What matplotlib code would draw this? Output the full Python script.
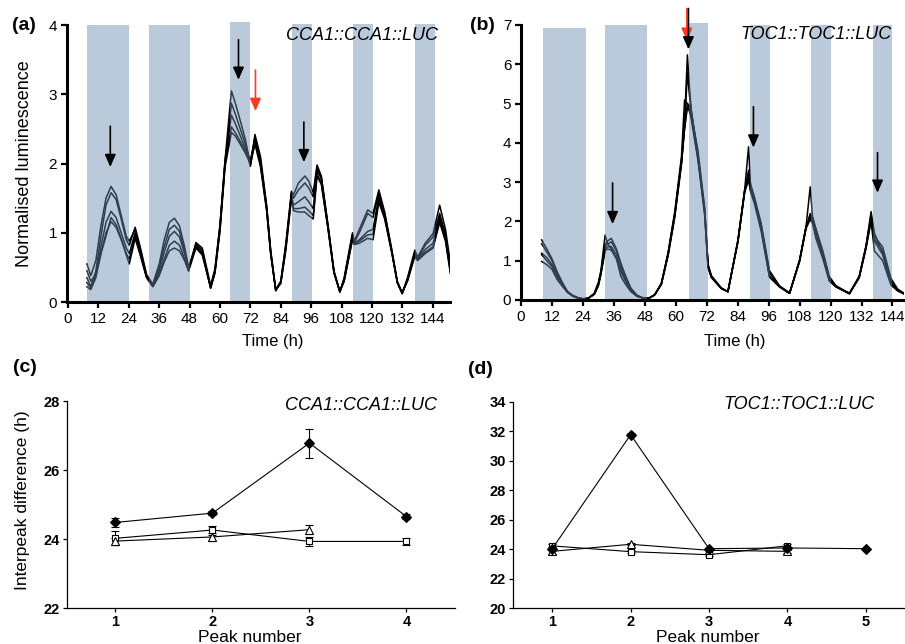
"""
Luminescence traces (CCA1 / TOC1) and interpeak differences
"""
import matplotlib
matplotlib.use("Agg")
import matplotlib.pyplot as plt

plt.rcParams['font.family'] = ['Liberation Sans', 'DejaVu Sans']

# ---- panel (a): CCA1::CCA1::LUC traces ----
time_a = [7.5, 9, 11, 13, 15, 17, 19, 21, 23, 24.2,
          26.5, 28.5, 31, 33.5, 36, 38, 40, 42, 44, 46,
          47.6, 50.5, 53, 56.3, 58, 60, 62, 64.5, 66, 68,
          70, 72, 73.8, 76, 78.4, 80, 82, 84, 86, 88.2,
          89, 91, 93.5, 95, 96.8, 98.3, 100, 102.7, 105, 107.3,
          109, 111, 112.3, 113, 115, 118.3, 120.4, 122.7, 125, 127.7,
          130, 131.9, 134, 136.9, 138, 141, 144.1, 146.7, 149, 151]
cca1_1 = [0.55, 0.38, 0.60, 1.10, 1.50, 1.67, 1.55, 1.25, 0.95, 0.88,
          1.05, 0.75, 0.38, 0.26, 0.55, 0.90, 1.15, 1.21, 1.10, 0.80,
          0.50, 0.80, 0.70, 0.22, 0.45, 1.10, 2.05, 3.05, 2.88, 2.62,
          2.35, 1.98, 2.42, 2.10, 1.40, 0.75, 0.18, 0.30, 0.85, 1.60,
          1.55, 1.72, 1.82, 1.75, 1.58, 1.98, 1.82, 1.10, 0.45, 0.15,
          0.35, 0.75, 1.00, 0.88, 1.05, 1.33, 1.28, 1.62, 1.30, 0.78,
          0.30, 0.13, 0.35, 0.75, 0.65, 0.85, 0.99, 1.40, 1.05, 0.55]
cca1_2 = [0.35, 0.22, 0.45, 0.95, 1.40, 1.58, 1.48, 1.20, 0.90, 0.82,
          1.08, 0.80, 0.40, 0.25, 0.50, 0.80, 1.05, 1.11, 1.02, 0.75,
          0.48, 0.84, 0.75, 0.20, 0.42, 1.05, 2.00, 2.87, 2.72, 2.50,
          2.28, 2.02, 2.38, 2.05, 1.38, 0.74, 0.17, 0.28, 0.80, 1.58,
          1.50, 1.62, 1.72, 1.65, 1.52, 1.95, 1.80, 1.08, 0.44, 0.15,
          0.33, 0.72, 0.98, 0.86, 1.00, 1.28, 1.22, 1.58, 1.28, 0.76,
          0.29, 0.12, 0.33, 0.72, 0.63, 0.82, 0.94, 1.28, 0.98, 0.50]
cca1_3 = [0.28, 0.20, 0.40, 0.80, 1.15, 1.31, 1.22, 1.00, 0.78, 0.70,
          1.00, 0.72, 0.38, 0.24, 0.45, 0.72, 0.95, 1.02, 0.94, 0.70,
          0.47, 0.86, 0.78, 0.24, 0.48, 1.12, 2.05, 2.70, 2.58, 2.40,
          2.22, 1.96, 2.35, 2.00, 1.36, 0.72, 0.16, 0.30, 0.82, 1.55,
          1.40, 1.45, 1.52, 1.45, 1.35, 1.90, 1.78, 1.06, 0.43, 0.14,
          0.32, 0.70, 0.95, 0.85, 0.90, 1.02, 1.05, 1.52, 1.25, 0.75,
          0.28, 0.12, 0.32, 0.70, 0.62, 0.76, 0.85, 1.23, 0.95, 0.48]
cca1_4 = [0.22, 0.18, 0.35, 0.70, 1.00, 1.16, 1.08, 0.90, 0.70, 0.62,
          0.95, 0.70, 0.36, 0.23, 0.40, 0.62, 0.82, 0.88, 0.82, 0.63,
          0.45, 0.82, 0.72, 0.20, 0.44, 1.08, 2.00, 2.53, 2.45, 2.32,
          2.18, 2.05, 2.32, 1.98, 1.34, 0.70, 0.18, 0.28, 0.78, 1.52,
          1.35, 1.35, 1.37, 1.32, 1.25, 1.85, 1.72, 1.05, 0.42, 0.15,
          0.30, 0.68, 0.92, 0.84, 0.88, 0.97, 0.98, 1.48, 1.22, 0.74,
          0.28, 0.13, 0.31, 0.68, 0.60, 0.72, 0.80, 1.18, 0.90, 0.42]
cca1_5 = [0.45, 0.30, 0.40, 0.70, 0.95, 1.22, 1.12, 0.92, 0.68, 0.55,
          0.92, 0.68, 0.35, 0.22, 0.38, 0.58, 0.74, 0.78, 0.74, 0.60,
          0.45, 0.78, 0.68, 0.21, 0.42, 1.02, 1.95, 2.45, 2.40, 2.28,
          2.15, 2.00, 2.28, 1.95, 1.32, 0.70, 0.17, 0.27, 0.75, 1.50,
          1.32, 1.30, 1.30, 1.25, 1.20, 1.82, 1.70, 1.04, 0.42, 0.16,
          0.30, 0.66, 0.90, 0.83, 0.85, 0.92, 0.90, 1.44, 1.20, 0.73,
          0.28, 0.14, 0.30, 0.66, 0.60, 0.70, 0.78, 1.15, 0.88, 0.40]

# ---- panel (b): TOC1::TOC1::LUC traces ----
time_b = [8, 10, 12, 14, 16, 18, 20, 22, 24, 26,
          28.4, 30, 31, 32.6, 33.5, 35, 37, 38.7, 40.5, 42.6,
          45, 47.7, 50, 51.8, 54.4, 57, 59.6, 62.2, 63.4, 64.5,
          65.3, 66, 68.6, 71.2, 72.5, 73.8, 77.6, 80.2, 84.1, 86.7,
          88.2, 89, 90.5, 93.1, 96.3, 100.2, 104.1, 108, 110.5, 112.1,
          113, 114.4, 117, 119.5, 122.1, 127.3, 131.1, 133.7, 135.7, 137,
          140.2, 143.4, 146, 148.5]
toc1_1 = [1.53, 1.30, 1.05, 0.72, 0.45, 0.22, 0.12, 0.06, 0.03, 0.04,
          0.17, 0.45, 0.76, 1.65, 1.45, 1.30, 1.05, 0.80, 0.50, 0.24,
          0.10, 0.04, 0.06, 0.13, 0.42, 1.19, 2.20, 3.56, 4.50, 6.24,
          5.40, 4.84, 3.65, 2.20, 0.85, 0.59, 0.30, 0.21, 1.53, 2.80,
          3.90, 2.88, 2.55, 1.87, 0.60, 0.34, 0.17, 1.02, 1.87, 2.88,
          2.12, 1.78, 1.19, 0.55, 0.34, 0.17, 0.60, 1.36, 2.25, 1.70,
          1.20, 0.45, 0.25, 0.17]
toc1_2 = [1.43, 1.22, 1.00, 0.68, 0.42, 0.21, 0.11, 0.06, 0.03, 0.04,
          0.16, 0.42, 0.72, 1.40, 1.50, 1.57, 1.30, 0.94, 0.62, 0.30,
          0.12, 0.04, 0.06, 0.13, 0.40, 1.15, 2.15, 3.50, 4.40, 5.80,
          5.20, 4.80, 3.70, 2.30, 0.90, 0.62, 0.31, 0.21, 1.50, 2.78,
          3.30, 2.95, 2.62, 1.95, 0.75, 0.36, 0.18, 1.00, 1.85, 2.20,
          2.10, 1.80, 1.25, 0.60, 0.36, 0.17, 0.58, 1.34, 2.15, 1.62,
          1.35, 0.55, 0.28, 0.17]
toc1_3 = [1.19, 1.08, 0.90, 0.62, 0.40, 0.20, 0.11, 0.05, 0.03, 0.04,
          0.15, 0.40, 0.70, 1.35, 1.42, 1.48, 1.25, 0.88, 0.58, 0.28,
          0.11, 0.04, 0.06, 0.13, 0.42, 1.20, 2.25, 3.65, 5.09, 5.00,
          4.85, 4.70, 3.60, 2.25, 0.85, 0.58, 0.30, 0.21, 1.52, 2.80,
          3.20, 2.85, 2.55, 1.90, 0.70, 0.35, 0.17, 1.02, 1.87, 2.15,
          2.05, 1.70, 1.15, 0.55, 0.35, 0.16, 0.60, 1.36, 2.10, 1.55,
          1.25, 0.48, 0.26, 0.16]
toc1_4 = [1.15, 1.00, 0.85, 0.58, 0.38, 0.20, 0.10, 0.05, 0.03, 0.04,
          0.15, 0.38, 0.68, 1.30, 1.35, 1.36, 1.15, 0.72, 0.48, 0.24,
          0.10, 0.04, 0.06, 0.13, 0.40, 1.15, 2.15, 3.50, 4.40, 5.00,
          4.95, 4.75, 3.80, 2.35, 0.90, 0.60, 0.30, 0.21, 1.50, 2.75,
          3.10, 2.80, 2.50, 1.80, 0.62, 0.34, 0.17, 1.00, 1.85, 2.10,
          2.00, 1.60, 1.10, 0.50, 0.34, 0.16, 0.58, 1.33, 2.05, 1.50,
          1.15, 0.42, 0.24, 0.16]
toc1_5 = [0.98, 0.90, 0.78, 0.52, 0.35, 0.19, 0.10, 0.05, 0.03, 0.04,
          0.14, 0.36, 0.66, 1.25, 1.30, 1.27, 1.05, 0.60, 0.40, 0.21,
          0.09, 0.04, 0.06, 0.13, 0.40, 1.12, 2.10, 3.45, 4.35, 4.90,
          4.80, 4.60, 3.55, 2.15, 0.82, 0.57, 0.29, 0.21, 1.48, 2.75,
          3.05, 2.75, 2.45, 1.75, 0.58, 0.33, 0.17, 0.98, 1.82, 2.05,
          1.95, 1.55, 1.05, 0.48, 0.33, 0.16, 0.56, 1.30, 2.00, 1.25,
          1.00, 0.38, 0.23, 0.15]

# dark periods (start, end) in h
dark_a = [(7.5, 24), (32, 48), (64, 72), (88.5, 96.5), (112.5, 120.5), (137, 145)]
dark_a_top = [4.0, 4.0, 4.05, 4.02, 4.02, 4.02]
dark_b = [(8.5, 25), (32.5, 49), (65, 72.3), (88.7, 96.4), (112.3, 120), (136.3, 144)]
dark_b_top = [6.93, 7.0, 7.05, 7.0, 7.0, 7.0]

# arrows: (time, start value, tip value)
arrows_a = [(16.7, 2.54, 1.95), (67.3, 3.79, 3.21), (93.1, 2.60, 2.02)]
red_arrow_a = (74.0, 3.35, 2.76)
arrows_b = [(35.5, 2.98, 1.93), (64.9, 7.42, 6.38), (90.1, 4.92, 3.88), (138.2, 3.75, 2.73)]
red_arrow_b = (64.3, 7.42, 6.60)

# ---- panels (c) and (d): interpeak differences ----
peaks_c = [1, 2, 3, 4]
c_diamond = [24.48, 24.75, 26.78, 24.65]
c_diamond_err = [0.13, 0.05, 0.42, 0.08]
c_square = [24.02, 24.26, 23.93, 23.93]
c_square_err = [0.20, 0.13, 0.12, 0.10]
c_triangle = [23.94, 24.06, 24.27]
c_triangle_err = [0.10, 0.12, 0.13]

peaks_d = [1, 2, 3, 4, 5]
d_diamond = [24.03, 31.78, 24.03, 24.08, 24.03]
d_diamond_err = [0.10, 0.10, 0.08, 0.08, 0.05]
d_square = [24.22, 23.83, 23.62, 24.23]
d_square_err = [0.12, 0.08, 0.08, 0.10]
d_triangle = [23.85, 24.33, 23.92, 23.85]
d_triangle_err = [0.15, 0.08, 0.08, 0.08]

band_color = (0.416, 0.547, 0.687)
red = '#ff3b1f'

fig = plt.figure(figsize=(9.05, 6.44), dpi=100)


def trace_panel(ax, t, traces, dark, tops, arrows, red_arrow, ymax, xmax, xmin, label):
    for tr in traces:
        ax.plot(t, tr, color='black', lw=1.1, zorder=2)
    # bands sit over the traces, which tints them blue-grey as in the original
    for (s, e), top in zip(dark, tops):
        ax.fill_between([s, e], 0, top, color=band_color, alpha=0.45, lw=0,
                        zorder=3, clip_on=False)
    style = '-|>,head_width=0.33,head_length=0.75'
    for x, y0, y1 in arrows:
        ax.annotate('', xy=(x, y1), xytext=(x, y0), annotation_clip=False, zorder=5,
                    arrowprops=dict(arrowstyle=style, color='black', lw=1.2,
                                    shrinkA=0, shrinkB=0))
    x, y0, y1 = red_arrow
    ax.annotate('', xy=(x, y1), xytext=(x, y0), annotation_clip=False, zorder=4,
                arrowprops=dict(arrowstyle=style, color=red, lw=1.2,
                                shrinkA=0, shrinkB=0))
    ax.set_xlim(xmin, xmax)
    ax.set_ylim(0, ymax)
    ax.set_xticks(range(0, 145, 12))
    ax.set_yticks(range(0, ymax + 1))
    for s in ['top', 'right']:
        ax.spines[s].set_visible(False)
    for s in ['left', 'bottom']:
        ax.spines[s].set_linewidth(2.2)
        ax.spines[s].set_zorder(6)
    ax.tick_params(direction='out', length=4, width=1.6, labelsize=11, pad=3)
    ax.text(0.77, 0.964, label, transform=ax.transAxes, ha='center', va='center',
            fontsize=13, style='italic')


ax_a = fig.add_axes([0.074, 0.531, 0.423, 0.430])
trace_panel(ax_a, time_a, [cca1_1, cca1_2, cca1_3, cca1_4, cca1_5], dark_a, dark_a_top,
            arrows_a, red_arrow_a, 4, 150.7, -0.4, 'CCA1::CCA1::LUC')
ax_a.set_xlabel('Time (h)', fontsize=12)
ax_a.xaxis.set_label_coords(0.538, -0.115)
ax_a.set_ylabel('Normalised luminescence', fontsize=13)
ax_a.yaxis.set_label_coords(-0.09, 0.5)

ax_b = fig.add_axes([0.5757, 0.5342, 0.4233, 0.427])
trace_panel(ax_b, time_b, [toc1_1, toc1_2, toc1_3, toc1_4, toc1_5], dark_b, dark_b_top,
            arrows_b, red_arrow_b, 7, 148.5, 0, 'TOC1::TOC1::LUC')
ax_b.set_xlabel('Time (h)', fontsize=12)
ax_b.xaxis.set_label_coords(0.557, -0.122)


def peak_panel(ax, peaks, series, ylim, yticks, label, lx, ly):
    for vals, errs, marker, face, ms in series:
        ax.errorbar(peaks[:len(vals)], vals, yerr=errs, color='black', lw=0.8,
                    marker=marker, mfc=face, mec='black', ms=ms, mew=0.8,
                    capsize=3, elinewidth=0.8, capthick=0.8)
    ax.set_xlim(0.5, peaks[-1] + 0.5)
    ax.set_ylim(*ylim)
    ax.set_xticks(peaks)
    ax.set_yticks(yticks)
    for s in ['top', 'right']:
        ax.spines[s].set_visible(False)
    for s in ['left', 'bottom']:
        ax.spines[s].set_linewidth(0.9)
    ax.tick_params(direction='out', length=3, width=0.9, labelsize=10.5, pad=2)
    for lab in ax.get_xticklabels() + ax.get_yticklabels():
        lab.set_fontweight('bold')
    ax.text(lx, ly, label, transform=ax.transAxes, ha='center', va='center',
            fontsize=13, style='italic')
    ax.set_xlabel('Peak number', fontsize=12.5, labelpad=0)


ax_c = fig.add_axes([0.074, 0.0559, 0.4287, 0.3214])
peak_panel(ax_c, peaks_c,
           [(c_square, c_square_err, 's', 'white', 5),
            (c_triangle, c_triangle_err, '^', 'white', 6),
            (c_diamond, c_diamond_err, 'D', 'black', 5)],
           (22, 28), [22, 24, 26, 28], 'CCA1::CCA1::LUC', 0.758, 0.976)
ax_c.xaxis.set_label_coords(0.472, -0.108)
ax_c.set_ylabel('Interpeak difference (h)', fontsize=12.5)
ax_c.yaxis.set_label_coords(-0.095, 0.52)

ax_d = fig.add_axes([0.5669, 0.0559, 0.4331, 0.3199])
peak_panel(ax_d, peaks_d,
           [(d_square, d_square_err, 's', 'white', 5),
            (d_triangle, d_triangle_err, '^', 'white', 6),
            (d_diamond, d_diamond_err, 'D', 'black', 5)],
           (20, 34), list(range(20, 35, 2)), 'TOC1::TOC1::LUC', 0.73, 0.99)
ax_d.xaxis.set_label_coords(0.497, -0.108)

for x, y, s in [(12, 25, '(a)'), (470, 25, '(b)'), (13, 368, '(c)'), (468, 370, '(d)')]:
    fig.text(x / 905, 1 - y / 644, s, fontsize=14, fontweight='bold', va='center')

fig.savefig('out.png', dpi=100)
